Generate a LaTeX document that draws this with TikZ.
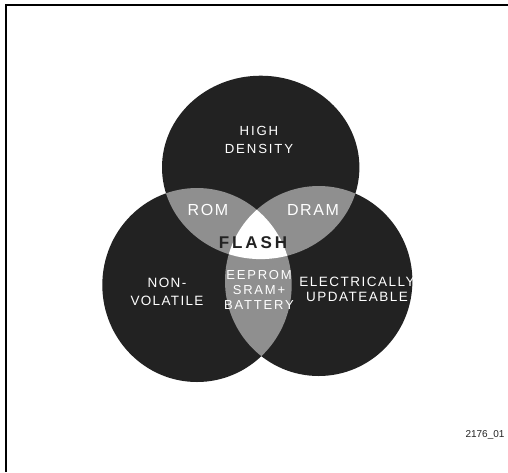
\documentclass[tikz,border=0pt]{standalone}
\usepackage{fontspec}
\setmainfont{Liberation Sans}
\newfontfamily\spacedfont[LetterSpace=14]{Liberation Sans}
\definecolor{vennDark}{HTML}{222222}
\definecolor{vennGray}{HTML}{8F8F8F}
\tikzset{
  region/.style={text=white, align=center, inner sep=0pt},
  tag/.style={text=vennDark, inner sep=0pt, font=\fontsize{10}{12}\selectfont},
}
\def\topset{(dense) ellipse [x radius=98.7, y radius=91.7]}
\def\leftset{(nonvol) ellipse [x radius=94.7, y radius=97]}
\def\rightset{(update) ellipse [x radius=93.7, y radius=95]}

\begin{document}
\begin{tikzpicture}[x=1pt,y=-1pt]
			%%%%% START %%%%%
			\useasboundingbox (0,0) rectangle (508,472);
			\draw[line width=2pt] (6,472) -- (6,5) -- (508,5);
			
			\coordinate (dense) at (260.7,167.4);
			\coordinate (nonvol) at (197,285);
			\coordinate (update) at (318.7,281);
			
			\fill[vennDark] \topset;
			\fill[vennDark] \leftset;
			\fill[vennDark] \rightset;
			
			\begin{scope}
				\clip \leftset;
				\fill[vennGray] \rightset;
			\end{scope}
			\begin{scope}
				\clip \topset;
				\fill[vennGray] \leftset;
				\fill[vennGray] \rightset;
				\clip \leftset;
				\fill[white] \rightset;
			\end{scope}
			
			\node[region, font=\spacedfont\fontsize{13.2}{18}\selectfont] (high) at (259,140) {HIGH\\DENSITY};
			\node[region, font=\spacedfont\addfontfeature{LetterSpace=10}\fontsize{16}{18}\selectfont] (rom) at (208,210) {ROM};
			\node[region, font=\spacedfont\addfontfeature{LetterSpace=10}\fontsize{16}{18}\selectfont] (dram) at (313,210) {DRAM};
			\node[region, text=vennDark, font=\spacedfont\bfseries\addfontfeature{LetterSpace=17}\fontsize{17}{19}\selectfont] (flash) at (253,243) {FLASH};
			\node[region, font=\spacedfont\fontsize{13}{15}\selectfont] (eeprom) at (259,290) {EEPROM\\SRAM+\\BATTERY};
			\node[region, font=\spacedfont\addfontfeature{LetterSpace=10}\fontsize{13.5}{18}\selectfont] (nonv) at (167,292) {NON-\\VOLATILE};
			\node[region, font=\spacedfont\addfontfeature{LetterSpace=11}\fontsize{13.5}{15}\selectfont] (elec) at (357,289.5) {ELECTRICALLY\\UPDATEABLE};
			
			\node[tag] (fig) at (485,435) {2176\_01};
			%%%%% END %%%%%
\end{tikzpicture}
\end{document}
